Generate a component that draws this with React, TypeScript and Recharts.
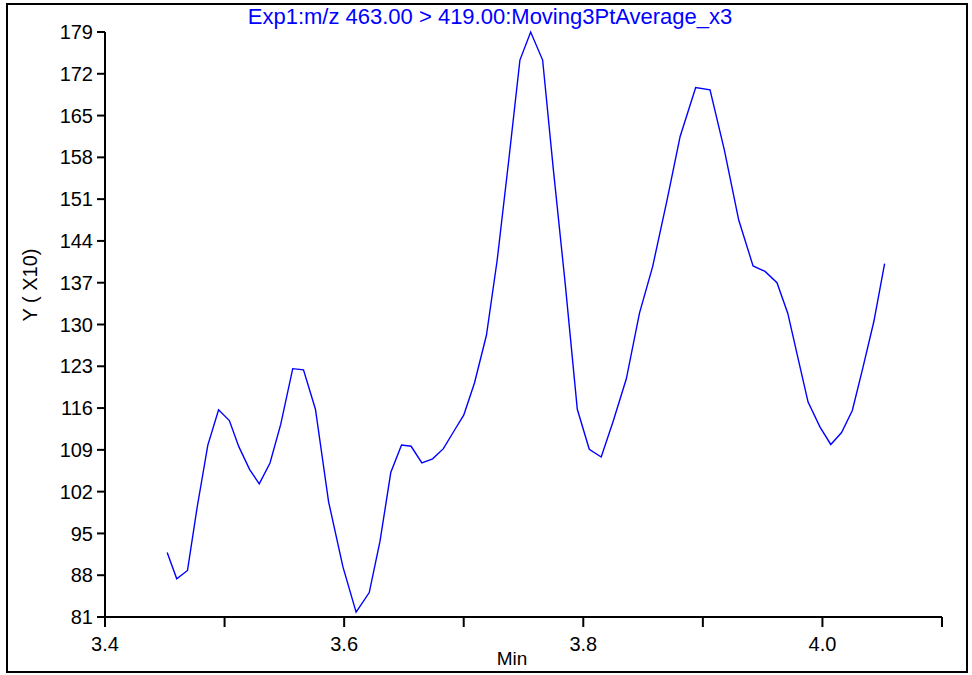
import { LineChart, Line, XAxis, YAxis } from "recharts";

// retention time (min) and smoothed intensity (x10)
const times = [
  3.452, 3.46, 3.469, 3.477, 3.486, 3.495, 3.504, 3.512, 3.521, 3.529, 3.538,
  3.547, 3.557, 3.566, 3.576, 3.587, 3.599, 3.61, 3.621, 3.63, 3.639, 3.648,
  3.656, 3.665, 3.674, 3.683, 3.692, 3.7, 3.709, 3.719, 3.728, 3.738, 3.747,
  3.756, 3.766, 3.775, 3.785, 3.795, 3.805, 3.815, 3.825, 3.836, 3.847, 3.858,
  3.87, 3.881, 3.894, 3.906, 3.918, 3.93, 3.942, 3.952, 3.962, 3.971, 3.98,
  3.988, 3.998, 4.007, 4.016, 4.025, 4.034, 4.043, 4.052,
];
const intensity = [
  91.8, 87.4, 88.8, 99.3, 109.8, 115.7, 113.9, 109.5, 105.7, 103.3, 106.8,
  113.3, 122.6, 122.4, 115.8, 100.3, 89.4, 81.8, 85.1, 93.7, 105.2, 109.8,
  109.6, 106.8, 107.5, 109.2, 112.2, 114.8, 120.2, 128.2, 140.8, 158.1, 174.3,
  179.0, 174.3, 155.9, 136.6, 115.8, 109.1, 107.8, 113.8, 120.9, 131.9, 139.7,
  150.8, 161.5, 169.7, 169.3, 159.2, 147.5, 139.8, 138.9, 137.0, 131.9, 124.0,
  117.0, 112.8, 109.9, 111.9, 115.6, 122.9, 130.5, 140.2,
];
const xTicks = [3.4, 3.5, 3.6, 3.7, 3.8, 3.9, 4.0, 4.1];
const xLabelled = [3.4, 3.6, 3.8, 4.0];
const yTicks = [81, 88, 95, 102, 109, 116, 123, 130, 137, 144, 151, 158, 165, 172, 179];

const title = "Exp1:m/z 463.00 > 419.00:Moving3PtAverage_x3";

const data = times.map((t, i) => ({ t, y: intensity[i] }));

const fmtX = (v: number) =>
  xLabelled.some((l) => Math.abs(l - v) < 1e-6) ? v.toFixed(1) : "";

export default function App() {
  return (
    <div
      style={{
        position: "absolute",
        left: 0,
        top: 0,
        width: 972,
        height: 675,
        background: "#fff",
        fontFamily: '"Liberation Sans", Arial, sans-serif',
        overflow: "hidden",
      }}
    >
      <LineChart
        width={972}
        height={675}
        data={data}
        margin={{ top: 32, right: 30, left: 0, bottom: 0 }}
      >
        <XAxis
          dataKey="t"
          type="number"
          domain={[3.4, 4.1]}
          ticks={xTicks}
          interval={0}
          tickFormatter={fmtX}
          height={58}
          tickSize={10}
          tickMargin={10}
          stroke="#000"
          strokeWidth={2}
          tick={{ fill: "#000", fontSize: 20 }}
        />
        <YAxis
          type="number"
          domain={[81, 179]}
          ticks={yTicks}
          interval={0}
          width={105}
          tickSize={8}
          tickMargin={4}
          stroke="#000"
          strokeWidth={2}
          tick={{ fill: "#000", fontSize: 20 }}
        />
        <Line
          type="linear"
          dataKey="y"
          stroke="#0000ff"
          strokeWidth={1.4}
          dot={false}
          isAnimationActive={false}
        />
      </LineChart>

      <div
        style={{
          position: "absolute",
          left: 0,
          top: 4,
          width: 980,
          textAlign: "center",
          color: "#0000ff",
          fontSize: 22,
          whiteSpace: "nowrap",
        }}
      >
        {title}
      </div>
      <div
        style={{
          position: "absolute",
          left: 30,
          top: 285,
          transform: "translate(-50%, -50%) rotate(-90deg)",
          fontSize: 20,
          whiteSpace: "nowrap",
        }}
      >
        Y ( X10)
      </div>
      <div
        style={{
          position: "absolute",
          left: 512,
          top: 649,
          transform: "translateX(-50%)",
          fontSize: 19,
          lineHeight: "20px",
        }}
      >
        Min
      </div>
      <div
        style={{
          position: "absolute",
          left: 6,
          top: 3,
          width: 962,
          height: 670,
          boxSizing: "border-box",
          border: "2px solid #000",
        }}
      />
    </div>
  );
}
